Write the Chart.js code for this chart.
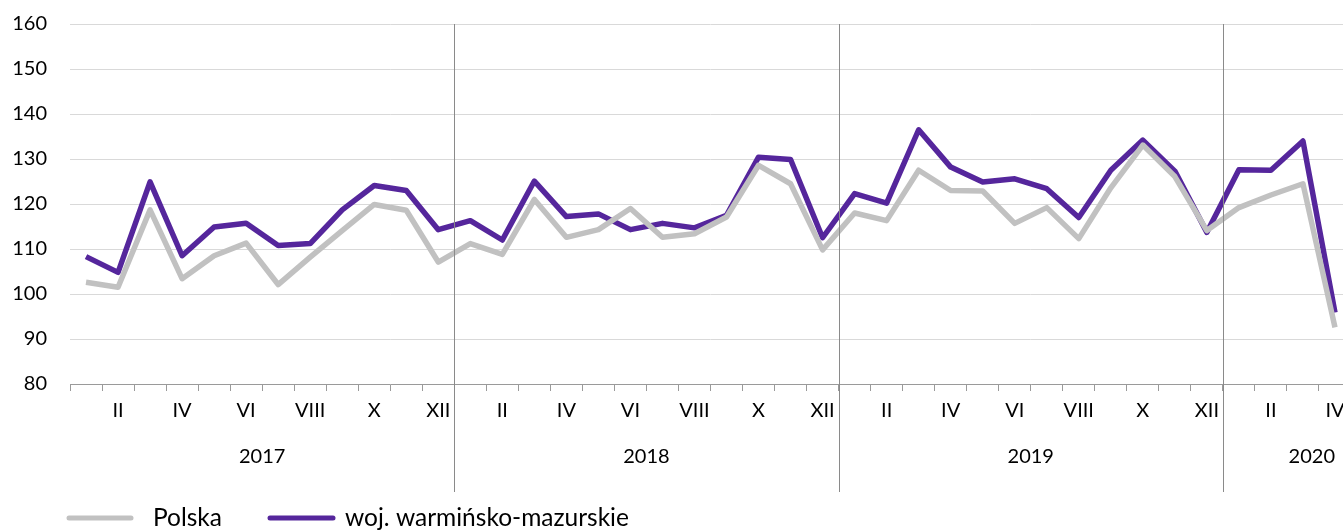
<!DOCTYPE html>
<html>
<head>
<meta charset="utf-8">
<script src="https://cdn.jsdelivr.net/npm/chart.js@4"></script>
<style>
  html, body { margin: 0; padding: 0; background: #fff; overflow: hidden; }
  #wrap { width: 1343px; height: 531px; overflow: hidden; }
  canvas { display: block; }
</style>
</head>
<body>
<div id="wrap"><canvas id="chart" width="1360" height="531"></canvas></div>
<script>
// data
const months = ['I', 'II', 'III', 'IV', 'V', 'VI', 'VII', 'VIII', 'IX', 'X', 'XI', 'XII'];
const years = ['2017', '2018', '2019', '2020'];
const monthsPerYear = [12, 12, 12, 4];

const polska = [
  102.6, 101.5, 118.7, 103.4, 108.5, 111.3, 102.1, 108.2, 114.1, 119.9, 118.6, 107.1,
  111.2, 108.8, 121.0, 112.6, 114.3, 119.0, 112.6, 113.4, 117.1, 128.6, 124.5, 109.8,
  118.0, 116.3, 127.5, 123.0, 122.9, 115.7, 119.2, 112.3, 123.6, 133.1, 126.1, 114.1,
  119.2, 122.0, 124.5, 92.6
];
const warminsko = [
  108.3, 104.8, 124.9, 108.5, 114.9, 115.7, 110.8, 111.2, 118.7, 124.1, 123.0, 114.3,
  116.3, 112.0, 125.1, 117.2, 117.8, 114.3, 115.7, 114.7, 117.5, 130.4, 129.9, 112.5,
  122.3, 120.2, 136.5, 128.2, 124.9, 125.6, 123.4, 117.0, 127.5, 134.2, 127.3, 113.7,
  127.6, 127.5, 134.0, 95.9
];

const labels = [];
years.forEach((y, i) => {
  for (let m = 0; m < monthsPerYear[i]; m++) labels.push(months[m]);
});

const FONT = 'Lato, "Noto Sans", sans-serif';
const GRAY = '#c1c1c1';
const PURPLE = '#55269c';

// year separators, year labels and legend
const extras = {
  id: 'extras',
  afterDraw(chart) {
    const ctx = chart.ctx;
    const x = chart.scales.x;
    const area = chart.chartArea;
    const visibleRight = 1343;
    const step = x.getPixelForValue(1) - x.getPixelForValue(0);
    ctx.save();

    let start = 0;
    ctx.font = '20px ' + FONT;
    ctx.fillStyle = '#000';
    ctx.textBaseline = 'middle';
    ctx.textAlign = 'center';
    years.forEach((y, i) => {
      const left = x.getPixelForValue(start) - step / 2;
      const right = x.getPixelForValue(start + monthsPerYear[i] - 1) + step / 2;
      let cx = (left + right) / 2;
      const w = ctx.measureText(y).width;
      if (i === years.length - 1) cx = visibleRight - 8 - w / 2;
      ctx.fillText(y, cx, 457);
      if (i > 0) {
        ctx.strokeStyle = '#8a8a8a';
        ctx.lineWidth = 1;
        ctx.beginPath();
        ctx.moveTo(Math.round(left) + 0.5, area.top);
        ctx.lineTo(Math.round(left) + 0.5, 492);
        ctx.stroke();
      }
      start += monthsPerYear[i];
    });

    // legend
    const items = [
      { text: 'Polska', color: GRAY, x1: 69, x2: 131, tx: 153 },
      { text: 'woj. warmińsko-mazurskie', color: PURPLE, x1: 270, x2: 333, tx: 345 }
    ];
    ctx.font = '24.5px ' + FONT;
    ctx.textAlign = 'left';
    ctx.lineCap = 'round';
    items.forEach(it => {
      ctx.strokeStyle = it.color;
      ctx.lineWidth = 5;
      ctx.beginPath();
      ctx.moveTo(it.x1, 518);
      ctx.lineTo(it.x2, 518);
      ctx.stroke();
      ctx.fillStyle = '#000';
      ctx.fillText(it.text, it.tx, 518);
    });
    ctx.restore();
  }
};

new Chart(document.getElementById('chart'), {
  type: 'line',
  data: {
    labels: labels,
    datasets: [
      {
        label: 'Polska',
        data: polska,
        borderColor: GRAY,
        borderWidth: 5.5,
        pointRadius: 0,
        tension: 0,
        borderJoinStyle: 'round'
      },
      {
        label: 'woj. warmińsko-mazurskie',
        data: warminsko,
        borderColor: PURPLE,
        borderWidth: 5.5,
        pointRadius: 0,
        tension: 0,
        borderJoinStyle: 'round'
      }
    ]
  },
  options: {
    responsive: false,
    animation: false,
    devicePixelRatio: 1,
    layout: { padding: { top: 24, right: 9, left: 0, bottom: 0 } },
    plugins: {
      legend: { display: false },
      tooltip: { enabled: false }
    },
    scales: {
      x: {
        offset: true,
        afterFit: s => { s.height = 147; },
        grid: {
          offset: true,
          drawOnChartArea: false,
          tickLength: 7,
          tickColor: '#9a9a9a'
        },
        border: { color: '#9a9a9a', width: 1 },
        ticks: {
          autoSkip: false,
          maxRotation: 0,
          padding: 8,
          color: '#000',
          font: { family: FONT, size: 20 },
          callback: (v, i) => (i % 2 === 1 ? labels[i] : '')
        }
      },
      y: {
        min: 80,
        max: 160,
        afterFit: s => { s.width = 70; s.paddingTop = 0; s.paddingBottom = 0; },
        grid: { color: '#d9d9d9', lineWidth: 1, drawTicks: false },
        border: { display: false },
        ticks: {
          stepSize: 10,
          padding: 23,
          color: '#000',
          font: { family: FONT, size: 20 }
        }
      }
    }
  },
  plugins: [extras]
});
</script>
</body>
</html>
